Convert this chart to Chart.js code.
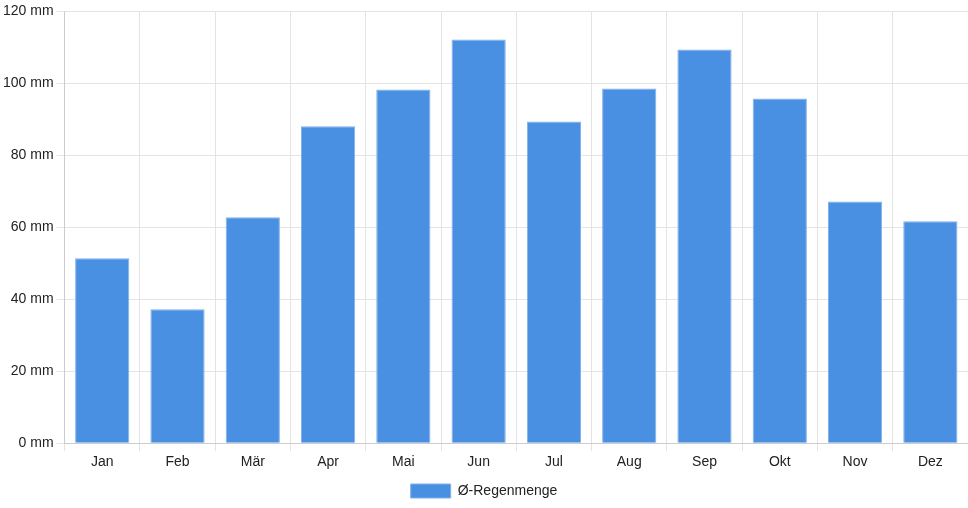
<!DOCTYPE html>
<html lang="de">
    <head>
        <meta charset="UTF-8" />
        <title>Regenmenge</title>
        <script src="https://cdn.jsdelivr.net/npm/chart.js"></script>
        <style>
            html, body { margin: 0; padding: 0; background: white; }
            .chart-container { width: 968px; height: 508px; }
        </style>
    </head>
    <body>
        <div class="chart-container">
            <canvas id="chart"></canvas>
        </div>
        <script>
            const months = ["Jan", "Feb", "Mär", "Apr", "Mai", "Jun", "Jul", "Aug", "Sep", "Okt", "Nov", "Dez"];
            const rain = [51.4, 37.2, 62.8, 88.1, 98.3, 112.2, 89.4, 98.6, 109.4, 95.8, 67.2, 61.7];

            Chart.defaults.font.family = "'Liberation Sans', Arial, sans-serif";
            Chart.defaults.font.size = 14;
            Chart.defaults.color = "#222";

            new Chart("chart", {
                type: "bar",
                data: {
                    labels: months,
                    datasets: [
                        {
                            label: "Ø-Regenmenge",
                            data: rain,
                            backgroundColor: "#4a90e2",
                            borderColor: "#7fb0ea",
                            borderWidth: 1,
                        },
                    ],
                },
                options: {
                    responsive: true,
                    maintainAspectRatio: false,
                    animation: false,
                    layout: { padding: { top: 4, right: 0, bottom: 0 } },
                    plugins: {
                        legend: {
                            position: "bottom",
                            labels: { boxWidth: 40, boxHeight: 14 },
                        },
                        tooltip: { enabled: false },
                    },
                    scales: {
                        x: {
                            grid: { color: "#e4e4e4" },
                        },
                        y: {
                            min: 0,
                            max: 120,
                            ticks: { stepSize: 20, callback: (v) => v + " mm" },
                            grid: { color: "#e4e4e4" },
                        },
                    },
                },
            });
        </script>
    </body>
</html>
